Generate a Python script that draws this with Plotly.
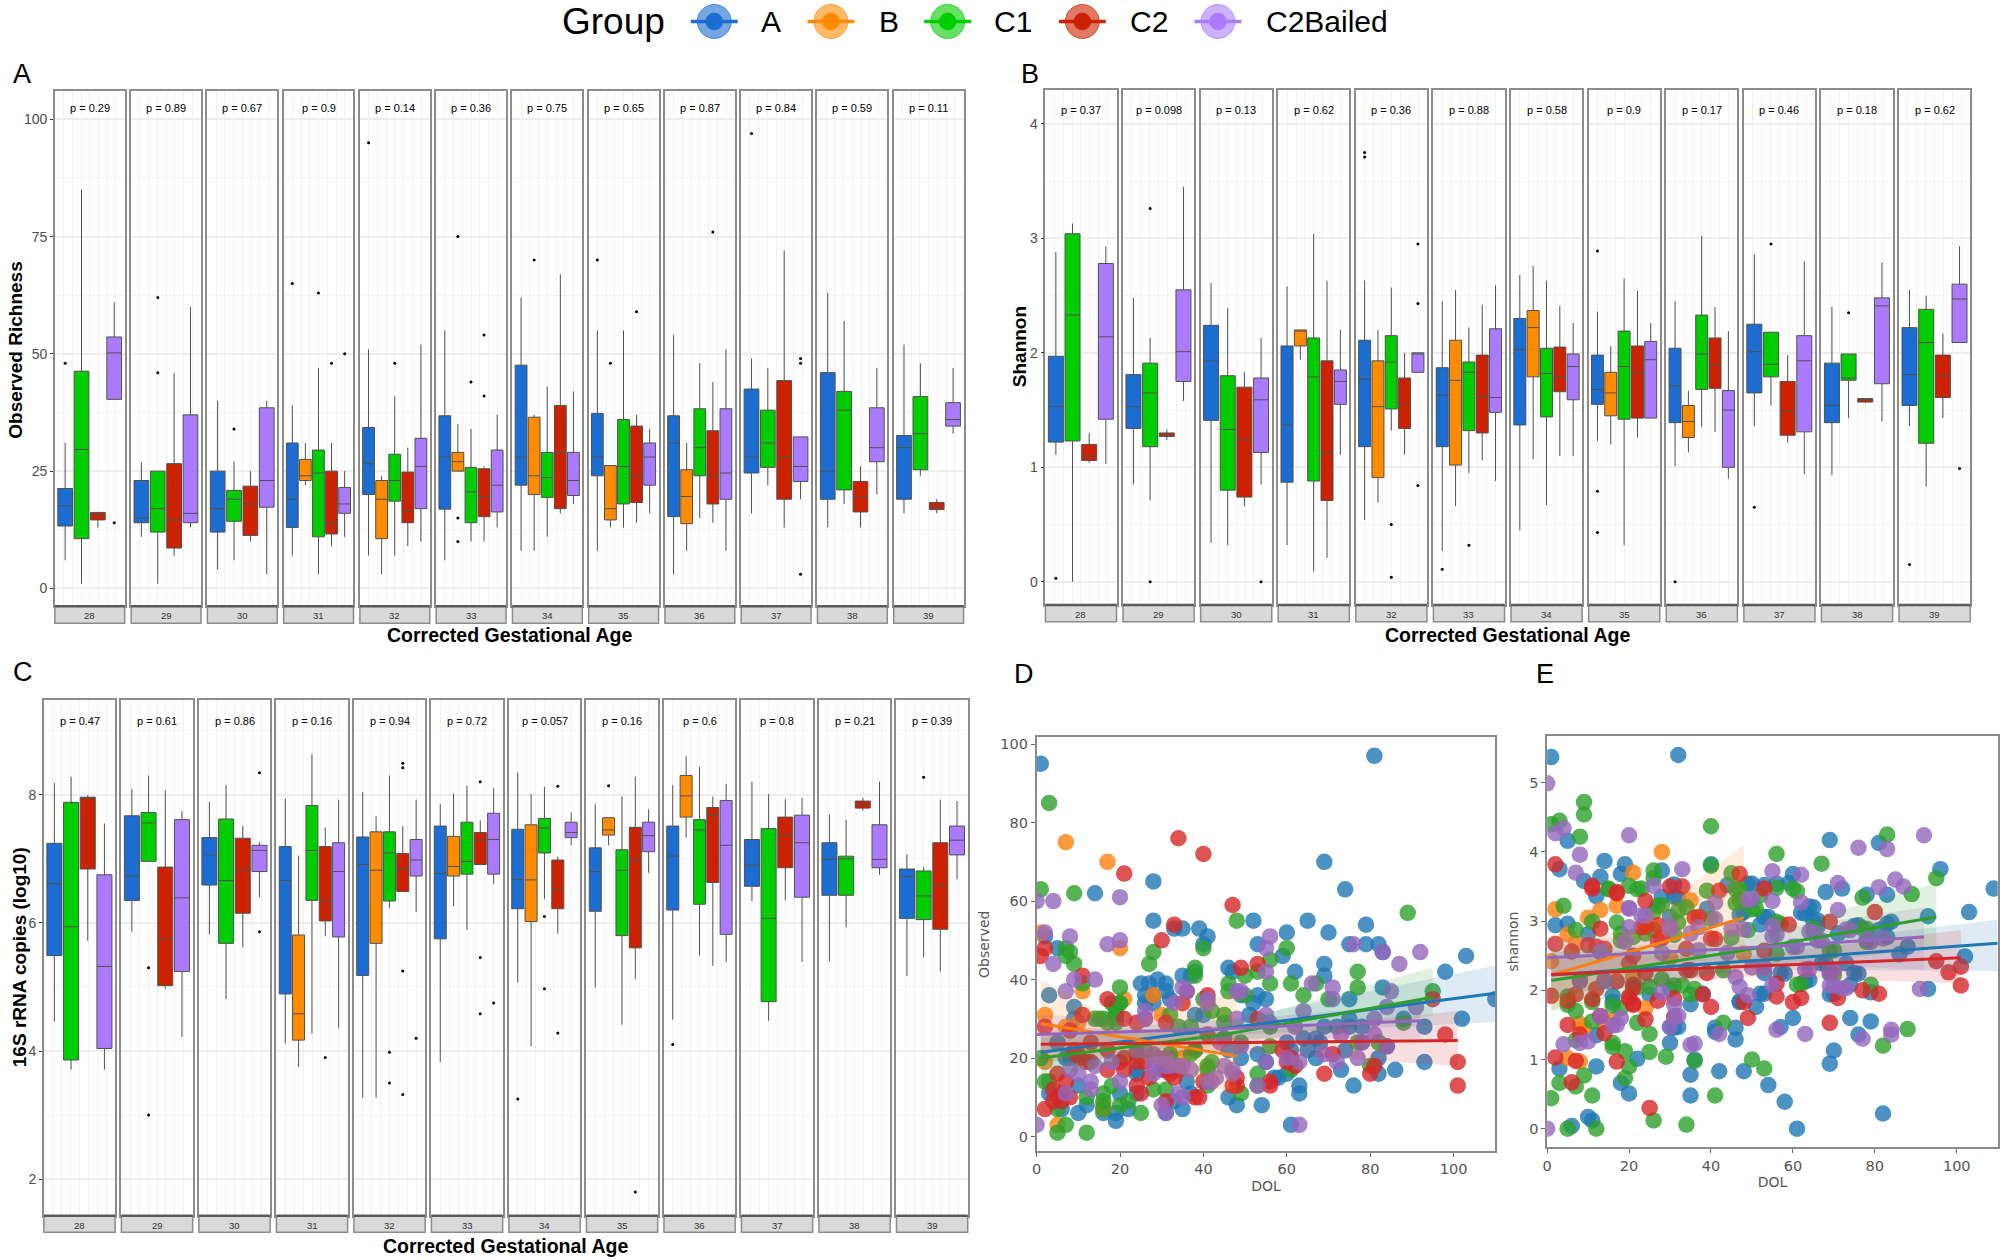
import plotly.graph_objects as go

GROUPS = ["A", "B", "C1", "C2", "C2Bailed"]
FACETS = [28, 29, 30, 31, 32, 33, 34, 35, 36, 37, 38, 39]
BOX_COLORS = {"A": "#1B6DD1", "B": "#FF8C00", "C1": "#00CD00", "C2": "#CC2200", "C2Bailed": "#AB7BFF"}
DOT_COLORS = {"A": "#1f77b4", "B": "#ff7f0e", "C1": "#2ca02c", "C2": "#d62728", "C2Bailed": "#9467bd"}

# ---- panel A : [low whisker, q1, median, q3, high whisker], None = no box
richness_A = [[6,13.3,17.6,21.3,31],[11,14,15,23,27],[4,12,17,25,40],[7,13,19,31,39],[7,20,26.6,34.3,51],[6,16.9,28,36.8,55],[8,22,28,47.6,62],[8,24,28,37.3,55],[3,15.3,31,36.8,54],[16,24.6,28,42.5,49],[13,19,25,46,63],[16,19,30,32.6,52]]
richness_B = [None,None,None,[22,23,24,27.5,31],[3,10.6,19,23,24],[25,25,27,29,35],[8,20,24,36.5,37],[13,14.6,17,26.2,26],[8,13.8,19.6,25.3,31],None,None,None]
richness_C1 = [[1,10.6,29.6,46.3,85],[1,12,17,25,25],[6,14.3,19,20.9,27],[3,11,24.6,29.5,47],[7,18.6,23,28.6,41],[10,14,20.6,25.8,34],[11,19.4,23.6,29,43],[13,18,26,36,55],[15,24,30,38.3,48],[22,25.8,31,38,47],[18,21,38,42,57],[24,25.3,33,40.9,48]]
richness_C2 = [[13,14.6,15.8,16.2,16.2],[7,8.6,14.6,26.6,46],[10,11.3,18,21.8,25],[9,11.6,14,25,31],[9,14,16.6,24.8,30],[10,15.3,19.6,25.5,26],[16,17,29,39,67],[14,18.3,24,34.6,37],[14,18,24,33.6,44],[13,19,28,44.3,72],[13,16.3,19.6,22.8,26],[16,16.8,17.5,18.3,19]]
richness_C2B = [[40.3,40.3,50.2,53.6,61],[13,14,16,37,60],[3,17.3,23,38.5,40],[11,16,18,21.5,25],[10,17,26,32,52],[13,16.3,22,29.5,37],[18,19.8,23,29,42],[16,22,28,31,34],[8,19,24.6,38.3,51],[19,22.8,26,32.3,32.3],[20,27,30,38.5,47],[33,34.6,36,39.6,47]]
richness_out_A = [[48],[],[],[65],[95],[],[],[70],[],[97],[],[]]
richness_out_B = [[],[],[],[],[],[75,15,10],[70],[48],[],[],[],[]]
richness_out_C1 = [[],[62,46],[34],[63],[48],[44],[],[],[],[],[],[]]
richness_out_C2 = [[],[],[],[48],[],[54,41],[],[59],[76],[],[],[]]
richness_out_C2B = [[14],[],[],[50],[],[],[],[],[],[49,48,3],[],[]]
richness_p = ["0.29","0.89","0.67","0.9","0.14","0.36","0.75","0.65","0.87","0.84","0.59","0.11"]

# ---- panel B
shannon_A = [[1.11,1.22,1.53,1.97,2.88],[0.85,1.34,1.53,1.81,2.48],[0.34,1.41,1.93,2.24,2.61],[0.32,0.87,1.37,2.06,2.58],[0.54,1.18,1.77,2.11,2.63],[0.27,1.18,1.63,1.87,2.45],[0.45,1.37,2.03,2.30,2.68],[1.23,1.55,1.68,1.98,2.36],[1.01,1.39,1.71,2.04,2.45],[1.36,1.65,2.01,2.25,2.86],[0.93,1.39,1.54,1.91,2.40],[1.36,1.54,1.81,2.22,2.55]]
shannon_B = [None,None,None,[1.94,2.06,2.19,2.20,2.20],[0.69,0.91,1.53,1.93,2.20],[0.66,1.02,1.76,2.11,2.55],[1.07,1.79,2.22,2.37,2.76],[1.20,1.45,1.65,1.83,2.06],[1.13,1.26,1.40,1.54,1.67],None,None,None]
shannon_C1 = [[0,1.23,2.33,3.04,3.13],[0.71,1.18,1.65,1.91,2.13],[0.32,0.80,1.33,1.80,2.39],[0.09,0.88,1.79,2.13,3.04],[1.32,1.51,1.92,2.15,2.57],[0.95,1.32,1.83,1.92,2.22],[0.67,1.44,1.82,2.04,2.63],[0.32,1.42,1.88,2.19,2.65],[1.35,1.68,1.99,2.33,3.02],[1.54,1.79,1.90,2.18,2.18],[1.43,1.76,1.78,1.99,1.99],[0.83,1.21,2.09,2.38,2.50]]
shannon_C2 = [[1.04,1.06,1.10,1.20,1.30],[1.24,1.27,1.28,1.30,1.33],[0.66,0.74,1.24,1.70,1.83],[0.21,0.71,1.13,1.93,2.63],[1.11,1.34,1.55,1.78,2.00],[1.06,1.30,1.62,1.98,2.42],[1.10,1.66,1.79,2.05,2.41],[1.26,1.43,1.83,2.06,2.54],[1.31,1.69,1.89,2.13,2.40],[1.22,1.28,1.49,1.75,1.98],[1.56,1.57,1.59,1.60,1.60],[1.43,1.61,1.80,1.98,2.17]]
shannon_C2B = [[1.03,1.42,2.14,2.78,2.93],[1.58,1.75,2.01,2.55,3.45],[0.85,1.13,1.59,1.78,2.13],[1.11,1.55,1.75,1.85,2.20],[1.83,1.83,1.99,2.00,2.00],[0.88,1.48,1.61,2.21,2.59],[1.10,1.59,1.88,1.99,2.26],[1.43,1.43,1.94,2.10,2.26],[0.90,1.00,1.50,1.67,2.19],[0.94,1.31,1.93,2.15,2.80],[1.40,1.73,2.41,2.48,2.79],[2.09,2.09,2.47,2.60,2.93]]
shannon_out_A = [[0.03],[],[],[],[3.75,3.71],[0.11],[],[2.89,0.79,0.43],[0],[0.65],[],[0.15]]
shannon_out_B = [[],[],[],[],[],[],[],[],[],[],[],[]]
shannon_out_C1 = [[],[3.26,0],[],[],[0.5,0.04],[0.32],[],[],[],[2.95],[2.35],[]]
shannon_out_C2 = [[],[],[],[],[],[],[],[],[],[],[],[]]
shannon_out_C2B = [[],[],[0],[],[2.95,2.43,0.84],[],[],[],[],[],[],[0.99]]
shannon_p = ["0.37","0.098","0.13","0.62","0.36","0.88","0.58","0.9","0.17","0.46","0.18","0.62"]

# ---- panel C
copies_A = [[4.46,5.49,6.61,7.24,8.18],[5.86,6.35,6.73,7.67,8.09],[5.82,6.59,7.06,7.33,7.89],[4.12,4.89,6.66,7.19,7.94],[3.27,5.18,6.91,7.34,8.04],[3.83,5.75,6.77,7.51,7.85],[5.07,6.22,6.68,7.46,8.35],[4.99,6.18,6.80,7.17,7.85],[4.49,6.20,7.04,7.51,8.15],[6.34,6.57,6.90,7.30,8.20],[5.40,6.43,6.99,7.25,7.69],[5.17,6.07,6.72,6.84,7.07]]
copies_B = [None,None,None,[3.75,4.17,4.58,5.81,7.05],[3.27,5.68,6.82,7.42,7.66],[6.26,6.73,6.88,7.35,8.02],[4.07,6.02,6.67,7.53,8.01],[7.21,7.37,7.45,7.64,7.64],[7.33,7.65,7.98,8.30,8.60],None,None,None]
copies_C1 = [[3.71,3.86,5.94,7.88,8.28],[6.96,6.96,7.56,7.72,8.30],[4.81,5.68,6.66,7.62,8.15],[4.27,6.35,7.13,7.83,8.63],[6.23,6.34,7.09,7.42,8.30],[5.89,6.76,6.96,7.57,8.14],[6.37,7.09,7.48,7.63,8.12],[4.41,5.80,6.82,7.14,7.97],[5.49,6.29,7.45,7.61,8.43],[4.47,4.77,6.07,7.47,8.01],[5.93,6.43,7.00,7.04,7.61],[5.46,6.05,6.42,6.81,6.87]]
copies_C2 = [[5.72,6.84,7.95,7.96,7.99],[4.97,5.02,5.75,6.87,8.07],[5.62,6.15,6.82,7.32,7.51],[5.79,6.03,6.35,7.19,7.49],[6.49,6.49,6.84,7.08,7.51],[6.91,6.91,7.29,7.41,7.60],[5.83,6.22,6.53,6.98,7.03],[5.12,5.61,6.98,7.49,8.28],[5.33,6.63,7.68,7.80,7.97],[6.35,6.86,7.37,7.65,7.93],[7.75,7.79,7.85,7.90,7.95],[5.24,5.90,6.58,7.25,7.92]]
copies_C2B = [[3.71,4.04,5.32,6.75,7.55],[4.22,5.24,6.39,7.61,7.74],[6.40,6.80,7.13,7.21,7.26],[4.36,5.78,6.80,7.25,7.92],[6.17,6.73,6.98,7.30,7.92],[6.61,6.76,7.30,7.71,8.10],[7.21,7.33,7.41,7.57,7.72],[6.78,7.11,7.36,7.57,7.77],[5.39,5.82,7.21,7.91,8.17],[5.39,6.40,7.25,7.68,7.95],[6.75,6.86,6.99,7.53,8.20],[6.68,7.06,7.29,7.51,7.90]]
copies_out_A = [[],[],[],[],[],[],[3.25],[],[4.1],[],[],[]]
copies_out_B = [[],[],[],[],[],[],[],[8.14],[],[],[],[]]
copies_out_C1 = [[],[5.3,3.0],[],[],[3.98,3.5],[],[6.1,4.97],[],[],[],[],[8.27]]
copies_out_C2 = [[],[],[],[3.9],[8.49,8.42,5.25,3.32],[8.2,5.46,4.58],[8.13,4.28],[1.8],[],[],[],[]]
copies_out_C2B = [[],[],[8.34,5.86],[],[4.2],[4.75],[],[],[],[],[],[]]
copies_p = ["0.47","0.61","0.86","0.16","0.94","0.72","0.057","0.16","0.6","0.8","0.21","0.39"]

# ---- panel D : (DOL, Observed)
obs_A = [(1,95),(81,97),(69,70),(74,63),(14,62),(28,65),(28,55),(33,53),(35,53),(39,53),(41,51),(40,49),(52,55),(60,52),(65,55),(53,49),(59,46),(70,52),(75,49),(79,49),(79,54),(82,49),(83,47),(103,46),(98,42),(69,44),(69,41),(62,42),(46,43),(47,42),(83,38),(75,35),(110,35),(102,30),(2,51),(5,48),(3,36),(9,33),(9,30),(25,39),(27,39),(29,40),(31,39),(31,37),(32,35),(35,41),(37,41),(38,42),(26,36),(28,36),(26,34),(28,34),(38,31),(40,31),(51,31),(53,36),(52,34),(55,35),(49,36),(75,30),(69,28),(72,28),(75,28),(78,28),(88,30),(93,28),(60,24),(64,25),(67,25),(68,24),(65,22),(74,22),(61,22),(82,20),(78,24),(84,23),(93,19),(67,20),(73,17),(86,17),(82,16),(76,13),(63,13),(63,11),(54,8),(61,3),(58,15),(60,16),(57,15),(19,4),(10,6),(12,8),(16,6),(19,6),(22,7),(35,7),(31,6),(48,8),(46,10),(3,11),(20,11),(24,16),(24,17),(10,13),(7,20),(5,24),(46,22),(45,25),(24,11),(36,14),(37,11),(53,21),(55,19),(49,20),(6,7),(8,20),(33,9),(30,17),(38,22)]
obs_B = [(7,75),(17,70),(1,52),(20,48),(11,37),(21,35),(28,36),(2,31),(10,29),(30,31),(2,19),(35,20),(5,3),(16,8),(7,28),(16,7)]
obs_C1 = [(3,85),(1,63),(9,62),(48,55),(89,57),(28,47),(27,44),(40,48),(38,43),(7,48),(8,47),(7,46),(9,44),(56,45),(60,48),(50,41),(53,42),(46,39),(46,37),(56,39),(61,39),(77,42),(77,38),(64,36),(67,39),(70,35),(95,37),(50,36),(20,38),(20,34),(11,39),(42,32),(40,35),(32,31),(19,32),(19,31),(15,30),(45,31),(88,29),(82,24),(56,23),(49,24),(5,1),(12,1),(7,3),(25,6),(16,7),(5,7),(20,8),(22,9),(12,10),(16,11),(28,12),(31,12),(41,13),(49,11),(53,13),(53,16),(42,19),(41,18),(32,20),(3,14),(18,13),(1,20),(19,33),(19,30),(17,29),(34,28),(37,28),(38,22),(16,9),(38,41),(56,28),(77,24),(80,18),(61,17),(2,14),(18,34),(20,34),(16,30),(19,29),(41,17),(32,21),(45,29),(14,30),(37,21)]
obs_C2 = [(34,76),(40,72),(21,67),(47,59),(33,54),(30,50),(2,48),(1,46),(49,43),(53,44),(11,41),(17,35),(41,36),(36,37),(35,34),(21,30),(11,31),(95,35),(98,26),(101,19),(101,13),(69,16),(80,16),(81,18),(59,22),(61,20),(56,14),(56,13),(53,30),(71,21),(62,18),(2,7),(31,29),(24,29),(5,10),(6,9),(8,10),(4,12),(7,14),(5,16),(24,13),(25,11),(31,9),(38,10),(39,10),(48,13),(47,13),(40,14),(33,15),(32,16),(27,15),(20,19),(17,17),(21,17),(24,19),(26,19),(13,19),(10,20),(13,24),(8,27),(26,30),(2,28),(41,26),(60,19),(10,21),(12,19),(9,22),(6,11),(4,9),(17,22),(21,20),(24,21),(31,17),(34,17),(48,15)]
obs_C2B = [(0,60),(4,60),(20,61),(2,52),(8,51),(17,49),(20,50),(4,44),(9,40),(14,40),(7,37),(35,38),(36,37),(33,34),(26,32),(26,30),(56,51),(55,48),(55,42),(76,49),(83,47),(92,47),(87,44),(85,37),(71,38),(71,35),(66,39),(49,37),(41,35),(64,32),(55,31),(56,29),(48,30),(84,33),(81,30),(91,33),(62,28),(73,26),(81,26),(84,23),(78,24),(69,21),(77,20),(72,19),(63,19),(60,20),(55,19),(53,13),(63,3),(31,6),(30,8),(0,3),(35,10),(34,11),(44,24),(49,23),(43,15),(41,14),(47,16),(45,18),(37,17),(31,18),(28,16),(28,21),(26,22),(24,22),(31,20),(20,14),(18,19),(14,18),(13,14),(13,12),(7,11),(8,17),(34,18),(29,20),(35,18),(10,16),(28,19),(32,18),(42,14),(47,17),(45,25),(41,34),(48,37)]

# ---- panel E : (DOL, shannon)
sha_A = [(1,5.37),(32,5.40),(5,4.16),(69,4.17),(81,4.13),(96,3.75),(109,3.47),(103,3.13),(102,2.49),(93,2.02),(68,3.42),(72,3.47),(78,3.38),(83,3.38),(84,2.99),(93,3.07),(60,3.68),(59,3.55),(49,3.54),(53,3.52),(56,3.54),(64,3.21),(62,3.12),(65,3.0),(53,3.06),(52,2.95),(47,3.09),(14,3.87),(19,3.82),(18,3.68),(28,3.73),(31,3.53),(40,3.82),(3,3.75),(9,3.58),(13,3.64),(12,3.36),(2,2.94),(5,2.96),(10,2.81),(16,1.92),(16,1.83),(86,2.52),(88,2.63),(75,2.93),(67,2.39),(73,2.39),(75,2.25),(74,2.08),(63,2.13),(57,2.25),(53,2.25),(52,1.95),(51,1.76),(47,1.84),(35,1.80),(30,1.47),(31,1.46),(41,1.46),(41,1.40),(46,1.46),(46,1.29),(57,1.47),(60,1.60),(69,1.94),(79,1.97),(74,1.60),(79,1.55),(76,1.36),(70,1.13),(69,0.94),(82,0.22),(61,0),(58,0.39),(54,0.63),(48,0.83),(42,0.83),(35,0.78),(35,0.48),(36,1.0),(30,1.24),(22,1.01),(12,0.90),(3,0.87),(18,0.66),(20,0.51),(10,0.17),(11,0.12),(6,0.04),(12,1.35),(25,1.94),(30,2.02),(30,3.06),(44,3.52),(50,3.54),(28,3.35),(31,3.35),(32,3.33),(39,3.18),(48,3.13),(54,3.06),(53,1.95),(47,1.83),(38,1.95),(32,1.47),(65,3.2),(63,3.11),(66,3.01),(66,2.92),(71,2.82),(76,2.94),(83,2.96),(81,2.87),(83,2.77),(68,2.39),(76,2.24),(69,2.24),(58,2.24),(64,2.15),(70,1.95)]
sha_B = [(28,4.0),(21,3.7),(35,3.3),(2,3.17),(13,3.16),(17,3.22),(10,3.05),(1,2.42),(5,2.81),(7,2.67),(48,2.53),(24,1.74),(8,1.52),(9,1.47),(5,1.02),(8,0.97),(14,1.54),(30,2.47),(21,2.19),(16,1.57)]
sha_C1 = [(9,4.72),(9,4.54),(1,4.4),(3,4.45),(8,4.22),(40,4.37),(56,3.97),(67,3.83),(83,4.25),(95,3.62),(89,3.39),(77,3.34),(26,3.73),(26,3.62),(40,3.8),(45,3.69),(39,3.44),(15,3.46),(20,3.51),(22,3.46),(4,3.22),(11,2.99),(17,2.98),(27,3.22),(26,3.13),(32,3.15),(34,3.2),(46,3.46),(46,3.26),(50,3.17),(52,3.37),(56,3.48),(60,3.47),(61,3.43),(40,3.03),(56,2.99),(49,2.87),(45,2.76),(7,2.87),(18,2.72),(32,2.98),(69,2.57),(77,2.89),(79,2.08),(70,2.22),(61,2.08),(56,2.53),(43,2.29),(28,2.16),(36,2.02),(35,1.94),(22,2.04),(5,1.91),(5,1.79),(7,1.7),(11,1.83),(18,1.74),(22,1.53),(25,1.37),(7,1.28),(16,1.24),(16,1.18),(43,1.53),(88,1.44),(82,1.2),(50,1.0),(53,0.87),(19,1.12),(20,0.9),(19,0.73),(25,1.11),(29,1.04),(36,0.98),(9,0.77),(3,0.66),(7,0.61),(1,0.44),(11,0.48),(41,0.48),(26,0.12),(34,0.06),(5,0),(12,0),(15,3.47),(23,3.47),(28,3.23),(47,3.47),(47,3.3),(51,3.18),(18,2.82),(21,2.77),(24,2.82),(26,2.87),(31,2.8),(25,2.05),(31,2.07),(33,2.07),(16,1.78),(11,1.55),(78,2.89),(70,2.58),(65,2.89),(57,2.96),(78,2.7),(62,2.09)]
sha_C2 = [(2,3.82),(11,3.51),(11,3.47),(17,3.4),(24,3.29),(30,3.5),(33,3.5),(47,3.68),(42,3.44),(53,3.47),(36,3.05),(2,2.67),(13,2.89),(23,2.91),(27,2.94),(59,2.95),(69,2.99),(80,3.13),(40,2.75),(41,2.74),(27,2.72),(10,2.65),(6,2.56),(53,2.57),(21,2.5),(95,2.42),(101,2.34),(98,2.26),(101,2.07),(34,2.29),(39,2.25),(24,2.25),(17,2.13),(12,2.02),(21,2.08),(1,1.92),(7,1.94),(5,1.85),(11,1.87),(20,1.88),(27,1.85),(31,1.88),(21,1.81),(38,1.94),(40,1.76),(48,1.83),(56,1.91),(56,2.1),(60,1.83),(62,1.89),(77,2.0),(81,1.95),(71,1.89),(49,1.6),(69,1.53),(13,1.63),(5,1.5),(24,1.58),(31,1.62),(8,1.36),(14,1.38),(2,1.03),(7,0.98),(6,0.67),(17,0.97),(25,0.3),(17,3.42),(37,3.06),(28,2.75),(12,2.63),(14,2.6),(34,2.6),(24,2.92),(35,2.29),(20,2.39),(21,2.03),(20,1.91),(21,1.79)]
sha_C2B = [(0,4.99),(2,4.27),(4,4.34),(20,4.24),(92,4.24),(76,4.06),(83,4.04),(8,3.96),(33,3.75),(7,3.7),(55,3.72),(62,3.67),(26,3.51),(71,3.55),(85,3.6),(87,3.5),(81,3.49),(49,3.31),(55,3.29),(41,3.27),(62,3.27),(20,3.19),(71,3.16),(23,3.08),(41,3.03),(20,2.91),(19,2.7),(30,2.89),(37,2.91),(55,2.93),(56,2.8),(55,2.78),(48,2.88),(64,2.85),(73,2.88),(78,2.74),(82,2.75),(66,2.72),(28,2.54),(13,2.56),(37,2.58),(44,2.54),(60,2.63),(69,2.28),(69,2.07),(72,2.03),(63,2.3),(50,2.33),(46,2.19),(47,2.05),(49,1.93),(55,2.08),(53,2.33),(91,2.02),(14,2.13),(8,2.13),(28,1.97),(31,1.79),(32,1.63),(18,1.6),(16,1.49),(30,1.47),(56,1.43),(42,1.37),(63,1.37),(77,1.3),(84,1.43),(84,1.36),(10,1.26),(8,1.24),(4,1.22),(35,1.21),(0,0),(50,3.32),(35,2.82),(30,2.92),(24,3.08),(20,3.18),(13,2.55),(8,2.15),(14,2.15),(13,1.62),(17,1.5),(31,1.62),(36,1.23),(45,2.89),(74,2.87),(67,2.72),(79,2.7),(65,2.84),(61,2.63),(70,2.29),(73,2.03),(70,2.07),(64,2.31)]

# regression fits: (DOL, fit, lower, upper)
obs_fit_A = [(1,21.5,17,26),(50,28.2,26,30.5),(110,36.5,29.2,43.6)]
obs_fit_B = [(1,28.8,19,40),(20,25.5,22,29),(48,20.5,10,36.7)]
obs_fit_C1 = [(1,20,15,25),(45,26,23.5,28.5),(95,35.5,30.7,43)]
obs_fit_C2 = [(1,23.5,19,28),(50,24,21.5,26.5),(101,24.5,18,32)]
obs_fit_C2B = [(0,26,22,31),(45,27.5,25,29.5),(92,29.5,25,34)]
sha_fit_A = [(1,2.22,1.9,2.55),(50,2.43,2.3,2.6),(110,2.68,2.28,3.02)]
sha_fit_B = [(1,2.22,1.7,2.8),(20,2.55,2.25,2.85),(48,3.05,2.65,4.1)]
sha_fit_C1 = [(1,2.14,1.7,2.6),(45,2.55,2.3,2.7),(95,3.06,2.6,3.55)]
sha_fit_C2 = [(1,2.23,1.95,2.5),(50,2.35,2.2,2.5),(101,2.47,2.1,2.87)]
sha_fit_C2B = [(0,2.47,2.2,2.75),(45,2.6,2.4,2.78),(92,2.77,2.3,3.2)]

# ---- layout constants (pixels)
W, H = 2007, 1260
SANS = "Liberation Sans, sans-serif"
DJ = "DejaVu Sans, sans-serif"
def fx(px): return px / W
def fy(py): return 1 - py / H

fig = go.Figure()
layout = {}
shapes = []
annos = []
axis_no = [0]

def text(px, py, s, size, font=SANS, color="#000000", bold=False, rot=0):
    annos.append(dict(xref="paper", yref="paper", x=fx(px), y=fy(py), text=f"<b>{s}</b>" if bold else s,
                      showarrow=False, xanchor="center", yanchor="middle", textangle=rot,
                      font=dict(size=size, family=font, color=color)))

def new_axes(x0, x1, y0, y1):
    axis_no[0] += 1
    n = axis_no[0]
    sx = "" if n == 1 else str(n)
    layout[f"xaxis{sx}"] = dict(domain=[fx(x0), fx(x1)], anchor=f"y{sx}")
    layout[f"yaxis{sx}"] = dict(domain=[fy(y1), fy(y0)], anchor=f"x{sx}")
    return f"x{sx}", f"y{sx}", layout[f"xaxis{sx}"], layout[f"yaxis{sx}"]

def facet_panel(x_left, pitch, width, top, bottom, strip_bottom, yrange, yticks, minor, boxes, outs, pvals, p_y):
    for i, fac in enumerate(FACETS):
        x0 = x_left + i * pitch
        x1 = x0 + width
        xa, ya, xd, yd = new_axes(x0, x1, top, bottom)
        xd.update(range=[0, 1], tickvals=[k / 8 for k in range(1, 8)], showticklabels=False, ticks="",
                  showgrid=True, gridcolor="#F0F0F0", gridwidth=1, zeroline=False,
                  showline=True, mirror=True, linecolor="#8C8C8C", linewidth=1.5)
        yd.update(range=yrange, tickvals=yticks, showgrid=True, gridcolor="#EDEDED", gridwidth=1.5, zeroline=False,
                  showline=True, mirror=True, linecolor="#8C8C8C", linewidth=1.5,
                  minor=dict(dtick=minor, showgrid=True, gridcolor="#F5F5F5", gridwidth=0.8, ticks=""),
                  showticklabels=i == 0, ticks="outside" if i == 0 else "", ticklen=3, tickcolor="#333333",
                  tickfont=dict(family=SANS, size=14, color="#4D4D4D"))
        present = [g for g in GROUPS if boxes[g][i] is not None]
        slot = 0.937 / len(present)
        for j, g in enumerate(present):
            pos = 0.03 + slot * (j + 0.5)
            low, q1, med, q3, high = boxes[g][i]
            fig.add_trace(go.Box(x=[pos], q1=[q1], median=[med], q3=[q3], lowerfence=[low], upperfence=[high],
                                 width=slot * 0.9, whiskerwidth=0, boxpoints=False, fillcolor=BOX_COLORS[g],
                                 line=dict(color="#505050", width=1), xaxis=xa, yaxis=ya, showlegend=False,
                                 hoverinfo="skip"))
            if outs[g][i]:
                fig.add_trace(go.Scatter(x=[pos] * len(outs[g][i]), y=outs[g][i], mode="markers",
                                         marker=dict(size=3, color="#000000"), xaxis=xa, yaxis=ya,
                                         showlegend=False, hoverinfo="skip"))
        annos.append(dict(xref=xa + " domain", yref=ya, x=0.5, y=p_y, text=f"p = {pvals[i]}", showarrow=False,
                          font=dict(family=SANS, size=11, color="#000000")))
        shapes.append(dict(type="rect", xref="paper", yref="paper", x0=fx(x0), x1=fx(x1), y0=fy(strip_bottom), y1=fy(bottom),
                           fillcolor="#D9D9D9", line=dict(color="#8C8C8C", width=1.5), layer="above"))
        shapes.append(dict(type="line", xref="paper", yref="paper", x0=fx(x0), x1=fx(x1), y0=fy(bottom), y1=fy(bottom),
                           line=dict(color="#5A5A5A", width=2.5), layer="above"))
        text((x0 + x1) / 2, (bottom + strip_bottom) / 2 + 1, str(fac), 9.5, color="#333333")

facet_panel(50, 76.45, 70, 89.8, 605.7, 622.8, [-3.8, 106.1], [0, 25, 50, 75, 100], 12.5,
            dict(zip(GROUPS, [richness_A, richness_B, richness_C1, richness_C2, richness_C2B])),
            dict(zip(GROUPS, [richness_out_A, richness_out_B, richness_out_C1, richness_out_C2, richness_out_C2B])),
            richness_p, 102.5)
facet_panel(1043, 77.8, 71.3, 88.6, 604.5, 621.2, [-0.203, 4.30], [0, 1, 2, 3, 4], 0.5,
            dict(zip(GROUPS, [shannon_A, shannon_B, shannon_C1, shannon_C2, shannon_C2B])),
            dict(zip(GROUPS, [shannon_out_A, shannon_out_B, shannon_out_C1, shannon_out_C2, shannon_out_C2B])),
            shannon_p, 4.12)
facet_panel(39, 77.7, 71.4, 700, 1215.7, 1232.3, [1.43, 9.47], [2, 4, 6, 8], 1,
            dict(zip(GROUPS, [copies_A, copies_B, copies_C1, copies_C2, copies_C2B])),
            dict(zip(GROUPS, [copies_out_A, copies_out_B, copies_out_C1, copies_out_C2, copies_out_C2B])),
            copies_p, 9.15)

def rgba(hex_color, a):
    r, g, b = int(hex_color[1:3], 16), int(hex_color[3:5], 16), int(hex_color[5:7], 16)
    return f"rgba({r},{g},{b},{a})"

def scatter_panel(x0, x1, y0, y1, yrange, ydtick, ytitle, points, fits):
    xa, ya, xd, yd = new_axes(x0, x1, y0, y1)
    common = dict(showline=True, mirror=True, linecolor="#8A8A8A", linewidth=1.5, showgrid=False, zeroline=False,
                  ticks="outside", ticklen=4, tickcolor="#666666", tickfont=dict(family=DJ, size=14.5, color="#555555"))
    xd.update(range=[0, 110], dtick=20, title=dict(text="DOL", standoff=5, font=dict(family=DJ, size=14, color="#555555")), **common)
    yd.update(range=yrange, dtick=ydtick, title=dict(text=ytitle, standoff=7, font=dict(family=DJ, size=14, color="#555555")), **common)
    for g in GROUPS:
        fig.add_trace(go.Scatter(x=[p[0] for p in points[g]], y=[p[1] for p in points[g]], mode="markers",
                                 marker=dict(size=16.5, color=DOT_COLORS[g], opacity=0.8, line=dict(width=0)),
                                 xaxis=xa, yaxis=ya, showlegend=False, hoverinfo="skip"))
    for g in GROUPS:
        f = fits[g]
        fig.add_trace(go.Scatter(x=[r[0] for r in f] + [r[0] for r in f[::-1]],
                                 y=[r[3] for r in f] + [r[2] for r in f[::-1]], mode="lines", fill="toself",
                                 fillcolor=rgba(DOT_COLORS[g], 0.15), line=dict(width=0), xaxis=xa, yaxis=ya,
                                 showlegend=False, hoverinfo="skip"))
    for g in GROUPS:
        f = fits[g]
        fig.add_trace(go.Scatter(x=[r[0] for r in f], y=[r[1] for r in f], mode="lines",
                                 line=dict(color=DOT_COLORS[g], width=3), xaxis=xa, yaxis=ya,
                                 showlegend=False, hoverinfo="skip"))

scatter_panel(1034.2, 1494, 737, 1151, [-3.7, 101.7], 20, "Observed",
              dict(zip(GROUPS, [obs_A, obs_B, obs_C1, obs_C2, obs_C2B])),
              dict(zip(GROUPS, [obs_fit_A, obs_fit_B, obs_fit_C1, obs_fit_C2, obs_fit_C2B])))
scatter_panel(1546, 1997.7, 735.2, 1147.3, [-0.27, 5.68], 1, "shannon",
              dict(zip(GROUPS, [sha_A, sha_B, sha_C1, sha_C2, sha_C2B])),
              dict(zip(GROUPS, [sha_fit_A, sha_fit_B, sha_fit_C1, sha_fit_C2, sha_fit_C2B])))

# axis titles for the facet rows
for px, py in [(506, 635), (1506, 635), (502, 1246)]:
    text(px, py, "Corrected Gestational Age", 19.5, bold=True)
text(11, 349, "Observed Richness", 19, bold=True, rot=-90)
text(1017, 346, "Shannon", 19, bold=True, rot=-90)
text(14, 957, "16S rRNA copies (log10)", 19, bold=True, rot=-90)

# panel letters
text(16.6, 72.6, "A", 27)
text(1028, 72.6, "B", 27)
text(18, 672, "C", 27)
text(1022, 674, "D", 27)
text(1544, 674, "E", 27)

# group key
text(610, 21, "Group", 37)
key_centers = [711, 828, 945, 1080, 1216]
key_labels = [768, 886, 1011, 1147, 1325]
for g, cx, lx in zip(GROUPS, key_centers, key_labels):
    c = BOX_COLORS[g]
    cy = 20.5
    for r, op in [(17, 0.6), (8.5, 1)]:
        shapes.append(dict(type="circle", xref="paper", yref="paper", x0=fx(cx - r), x1=fx(cx + r), y0=fy(cy + r), y1=fy(cy - r),
                           fillcolor=rgba(c, op), line=dict(color=rgba(c, 0.7), width=1)))
    shapes.append(dict(type="line", xref="paper", yref="paper", x0=fx(cx - 23.5), x1=fx(cx + 23.5), y0=fy(cy), y1=fy(cy),
                       line=dict(color=c, width=3.5)))
    text(lx, 21, g, 30)

fig.update_layout(width=W, height=H, margin=dict(l=0, r=0, t=0, b=0, pad=0), paper_bgcolor="white", plot_bgcolor="white",
                  showlegend=False, shapes=shapes, annotations=annos, **layout)
fig.write_html("out.html", config={"displayModeBar": False}, post_script="document.body.style.margin='0';")
